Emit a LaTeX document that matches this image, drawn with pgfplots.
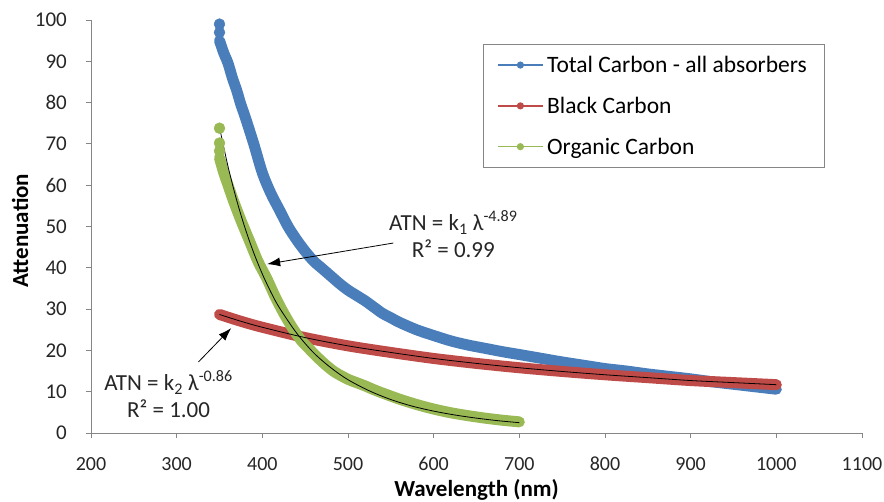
\documentclass[border=0pt]{standalone}
\usepackage{fontspec}
\setmainfont{Carlito}
\usepackage{pgfplots}
\pgfplotsset{compat=1.18}
\usetikzlibrary{arrows.meta}

\definecolor{tcblue}{HTML}{4A7EBB}
\definecolor{bcred}{HTML}{BE4B48}
\definecolor{ocgreen}{HTML}{98B954}
\definecolor{axgray}{HTML}{868686}

\begin{document}
\begin{tikzpicture}
\path[use as bounding box] (-91pt,-68pt) rectangle (793pt,433pt);
\begin{axis}[
    at={(0,0)}, anchor=south west,
    scale only axis,
    width=771pt, height=413pt,
    xmin=200, xmax=1100, ymin=0, ymax=100,
    xtick={200,300,...,1100}, ytick={0,10,...,100},
    axis x line=bottom, axis y line=left,
    axis line style={-, draw=axgray, line width=0.8pt},
    tick style={draw=axgray, line width=0.8pt},
    tick align=outside, major tick length=5pt,
    /pgf/number format/assume math mode=true,
    /pgf/number format/1000 sep={},
    tick label style={text=black!85},
    yticklabel style={font=\fontsize{21}{24}\selectfont, inner sep=0pt, anchor=east, xshift=-19pt},
    xticklabel style={font=\fontsize{20}{24}\selectfont, inner sep=0pt, anchor=north, yshift=-19pt},
    xlabel={\textbf{Wavelength (nm)}},
    ylabel={\textbf{Attenuation}},
    label style={font=\fontsize{23}{26}\selectfont},
    xlabel style={at={(axis description cs:0.5,-0.138)}, anchor=center},
    ylabel style={at={(axis description cs:-0.092,0.49)}, anchor=center, rotate=0},
    legend style={at={(0.509,0.942)}, anchor=north west, draw=axgray,
        font=\fontsize{23.5}{27}\selectfont, row sep=19pt,
        inner xsep=14pt, inner ysep=10pt, cells={anchor=west},
        nodes={inner xsep=3pt}},
    legend image code/.code={
        \draw[mark repeat=2, mark phase=2, #1] plot coordinates {(0pt,0pt) (22pt,0pt) (45pt,0pt)};},
    clip=false,
]
% legend entries
\addlegendimage{tcblue, line width=1.5pt, mark=*, mark size=2.8pt}
\addlegendentry{Total Carbon - all absorbers}
\addlegendimage{bcred, line width=1.5pt, mark=*, mark size=2.8pt}
\addlegendentry{Black Carbon}
\addlegendimage{ocgreen, line width=1.5pt, mark=*, mark size=2.8pt}
\addlegendentry{Organic Carbon}

% total carbon
\addplot[forget plot, tcblue, line width=11pt, line cap=round, line join=round, smooth] coordinates {
(350,95) (355,92) (360,89.5) (365,86) (370,83) (375,79.5) (380,76.5) (390,70)
(400,63) (410,58) (420,54) (430,50) (440,46.8) (450,44) (460,41.6) (470,39.8)
(480,38) (490,36.2) (500,34.6) (510,33.3) (520,32) (530,30.5) (540,29)
(550,27.9) (560,26.8) (580,25) (600,23.6) (620,22.3) (640,21.3) (660,20.5)
(680,19.7) (700,19) (725,18.1) (750,17.2) (775,16.4) (800,15.6) (825,15)
(850,14.3) (875,13.7) (900,13.1) (925,12.4) (950,11.8) (975,11.2) (1000,10.6)
};
\addplot[forget plot, only marks, mark=*, mark size=5.5pt, tcblue] coordinates {
(350,97) (350,99)
};

% black carbon
\addplot[forget plot, bcred, line width=11pt, line cap=round, line join=round, smooth] coordinates {
(350,28.7) (375,27.05) (400,25.6) (450,23.1) (500,21.1) (550,19.5) (600,18.05)
(650,16.85) (700,15.8) (750,14.9) (800,14.1) (850,13.4) (900,12.7) (950,12.2)
(1000,11.7)
};

% organic carbon
\addplot[forget plot, ocgreen, line width=11pt, line cap=round, line join=round, smooth] coordinates {
(350,66.6) (355,63) (360,60) (366,56.4) (375,51.5) (385,46.5) (395,41.5)
(405,37.5) (415,33) (425,29) (435,25.5) (445,22.5) (455,20.3) (465,18.2)
(475,16.3) (485,14.7) (500,13) (510,12.2) (520,11.4) (530,10.5) (540,9.7)
(560,8.2) (580,6.9) (600,5.8) (620,4.9) (640,4.2) (660,3.6) (680,3.1) (700,2.7)
};
\addplot[forget plot, only marks, mark=*, mark size=5.5pt, ocgreen] coordinates {
(350,68.3) (350,70.2) (350,73.8)
};

% power-law fits
\addplot[forget plot, black, line width=0.8pt, smooth] coordinates {
(350,74) (360,64.5) (370,56.4) (380,49.5) (390,43.6) (400,38.5) (410,34.1)
(420,30.3) (440,24.2) (460,19.4) (480,15.8) (500,12.9) (525,10.2) (550,8.1)
(575,6.5) (600,5.3) (625,4.35) (650,3.6) (675,2.98) (700,2.5)
};
\addplot[forget plot, black, line width=0.8pt, smooth] coordinates {
(350,28.7) (375,27.05) (400,25.6) (450,23.1) (500,21.1) (550,19.5) (600,18.05)
(650,16.85) (700,15.8) (750,14.9) (800,14.1) (850,13.4) (900,12.7) (950,12.2)
(1000,11.7)
};

% annotations
\node[font=\fontsize{23}{27}\selectfont, align=center, text=black!85] at (axis cs:623,48.2)
    {ATN = k\textsubscript{1} λ\textsuperscript{-4.89}\\R² = 0.99};
\draw[-{Latex[length=13pt,width=9pt]}, line width=0.8pt] (axis cs:553,46) -- (axis cs:405.6,40.9);
\node[font=\fontsize{23}{27}\selectfont, align=center, text=black!85] at (axis cs:290.6,9.4)
    {ATN = k\textsubscript{2} λ\textsuperscript{-0.86}\\R² = 1.00};
\draw[-{Latex[length=13pt,width=9pt]}, line width=0.8pt] (axis cs:325.4,17.2) -- (axis cs:363.7,25.4);
\end{axis}
\end{tikzpicture}
\end{document}
